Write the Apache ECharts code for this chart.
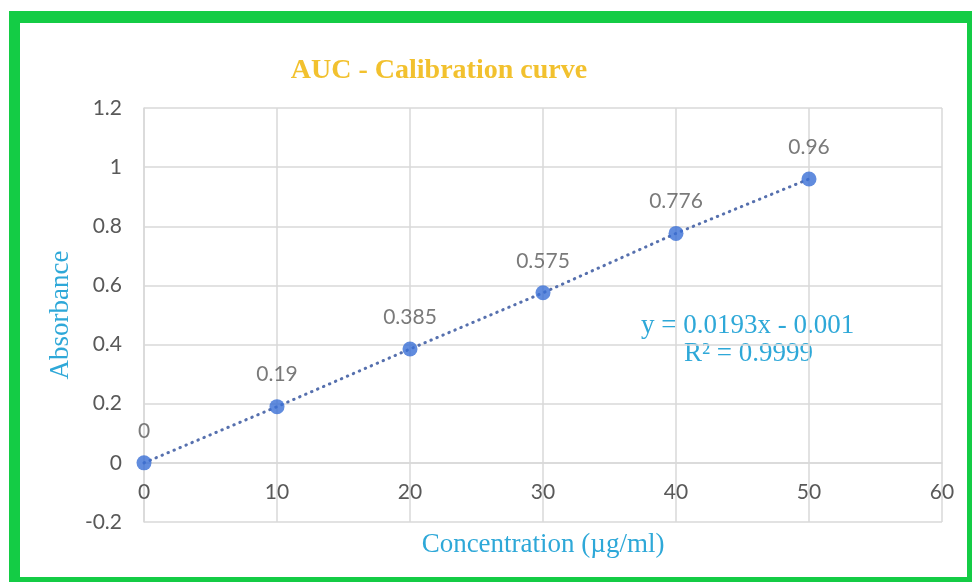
<!DOCTYPE html>
<html><head><meta charset="utf-8">
<script src="https://cdn.jsdelivr.net/npm/echarts@6/dist/echarts.min.js"></script>
<style>
html,body{margin:0;padding:0;background:#fff;overflow:hidden}
#frame{position:absolute;left:9px;top:11px;width:947px;height:554px;border-style:solid;border-color:#14CC45;border-width:12px 5px 5px 11px;}
#c{position:absolute;left:0;top:0;width:973px;height:582px}
</style></head>
<body>
<div id="frame"></div>
<div id="c"></div>
<script>
const concentration = [0, 10, 20, 30, 40, 50];
const absorbance = [0, 0.19, 0.385, 0.575, 0.776, 0.96];
const equationText = 'y = 0.0193x - 0.001';
const r2Text = 'R² = 0.9999';
const titleText = 'AUC - Calibration curve';

const points = concentration.map((x, i) => [x, absorbance[i]]);
const chart = echarts.init(document.getElementById('c'), null, {renderer: 'canvas'});
const gray = '#595959';
const blue = '#2EA8D8';
const serif = '"Liberation Serif", "Times New Roman", serif';
const tickFont = {color: gray, fontSize: 21, fontFamily: 'Lato, "Open Sans", sans-serif'};
chart.setOption({
  backgroundColor: 'transparent',
  animation: false,
  title: {text: titleText, left: 434, top: 52, textAlign: 'center',
    textStyle: {color: '#F2C12E', fontSize: 28, fontWeight: 'bold', fontFamily: serif}},
  grid: {left: 144, right: 31, top: 108, bottom: 60, containLabel: false, outerBoundsMode: 'none'},
  xAxis: {type: 'value', min: 0, max: 60, interval: 10, position: 'bottom', offset: -59,
    name: 'Concentration (µg/ml)', nameLocation: 'middle', nameGap: 68,
    nameTextStyle: {color: blue, fontSize: 27, fontFamily: serif},
    axisLine: {onZero: false, lineStyle: {color: '#d9d9d9', width: 1.5}},
    axisTick: {show: false},
    axisLabel: Object.assign({margin: 19}, tickFont),
    splitLine: {lineStyle: {color: '#d9d9d9', width: 1.5}}},
  yAxis: {type: 'value', min: -0.2, max: 1.2, interval: 0.2,
    name: 'Absorbance', nameLocation: 'middle', nameGap: 68, nameRotate: 90,
    nameTextStyle: {color: blue, fontSize: 27, fontFamily: serif},
    axisLine: {show: true, onZero: false, lineStyle: {color: '#d9d9d9', width: 1.5}},
    axisTick: {show: false},
    axisLabel: Object.assign({margin: 22, formatter: v => String(Math.round(v * 10) / 10)}, tickFont),
    splitLine: {lineStyle: {color: '#d9d9d9', width: 1.5}}},
  series: [
    {type: 'line', data: points, symbol: 'none', z: 2,
      lineStyle: {color: '#5670AE', width: 3, type: [0.5, 6], cap: 'round'}},
    {type: 'scatter', data: points, symbolSize: 15, z: 3,
      itemStyle: {color: '#3A6FD6'},
      label: {show: true, position: 'top', distance: 14, color: gray, fontSize: 21,
        fontFamily: 'Lato, "Open Sans", sans-serif',
        formatter: p => String(p.value[1])}}
  ],
  graphic: [
    {type: 'text', left: 641, top: 312, style: {text: equationText, fill: blue, font: '27px ' + serif}},
    {type: 'text', left: 684, top: 340, style: {text: r2Text, fill: blue, font: '27px ' + serif}}
  ]
});
</script>
</body></html>
